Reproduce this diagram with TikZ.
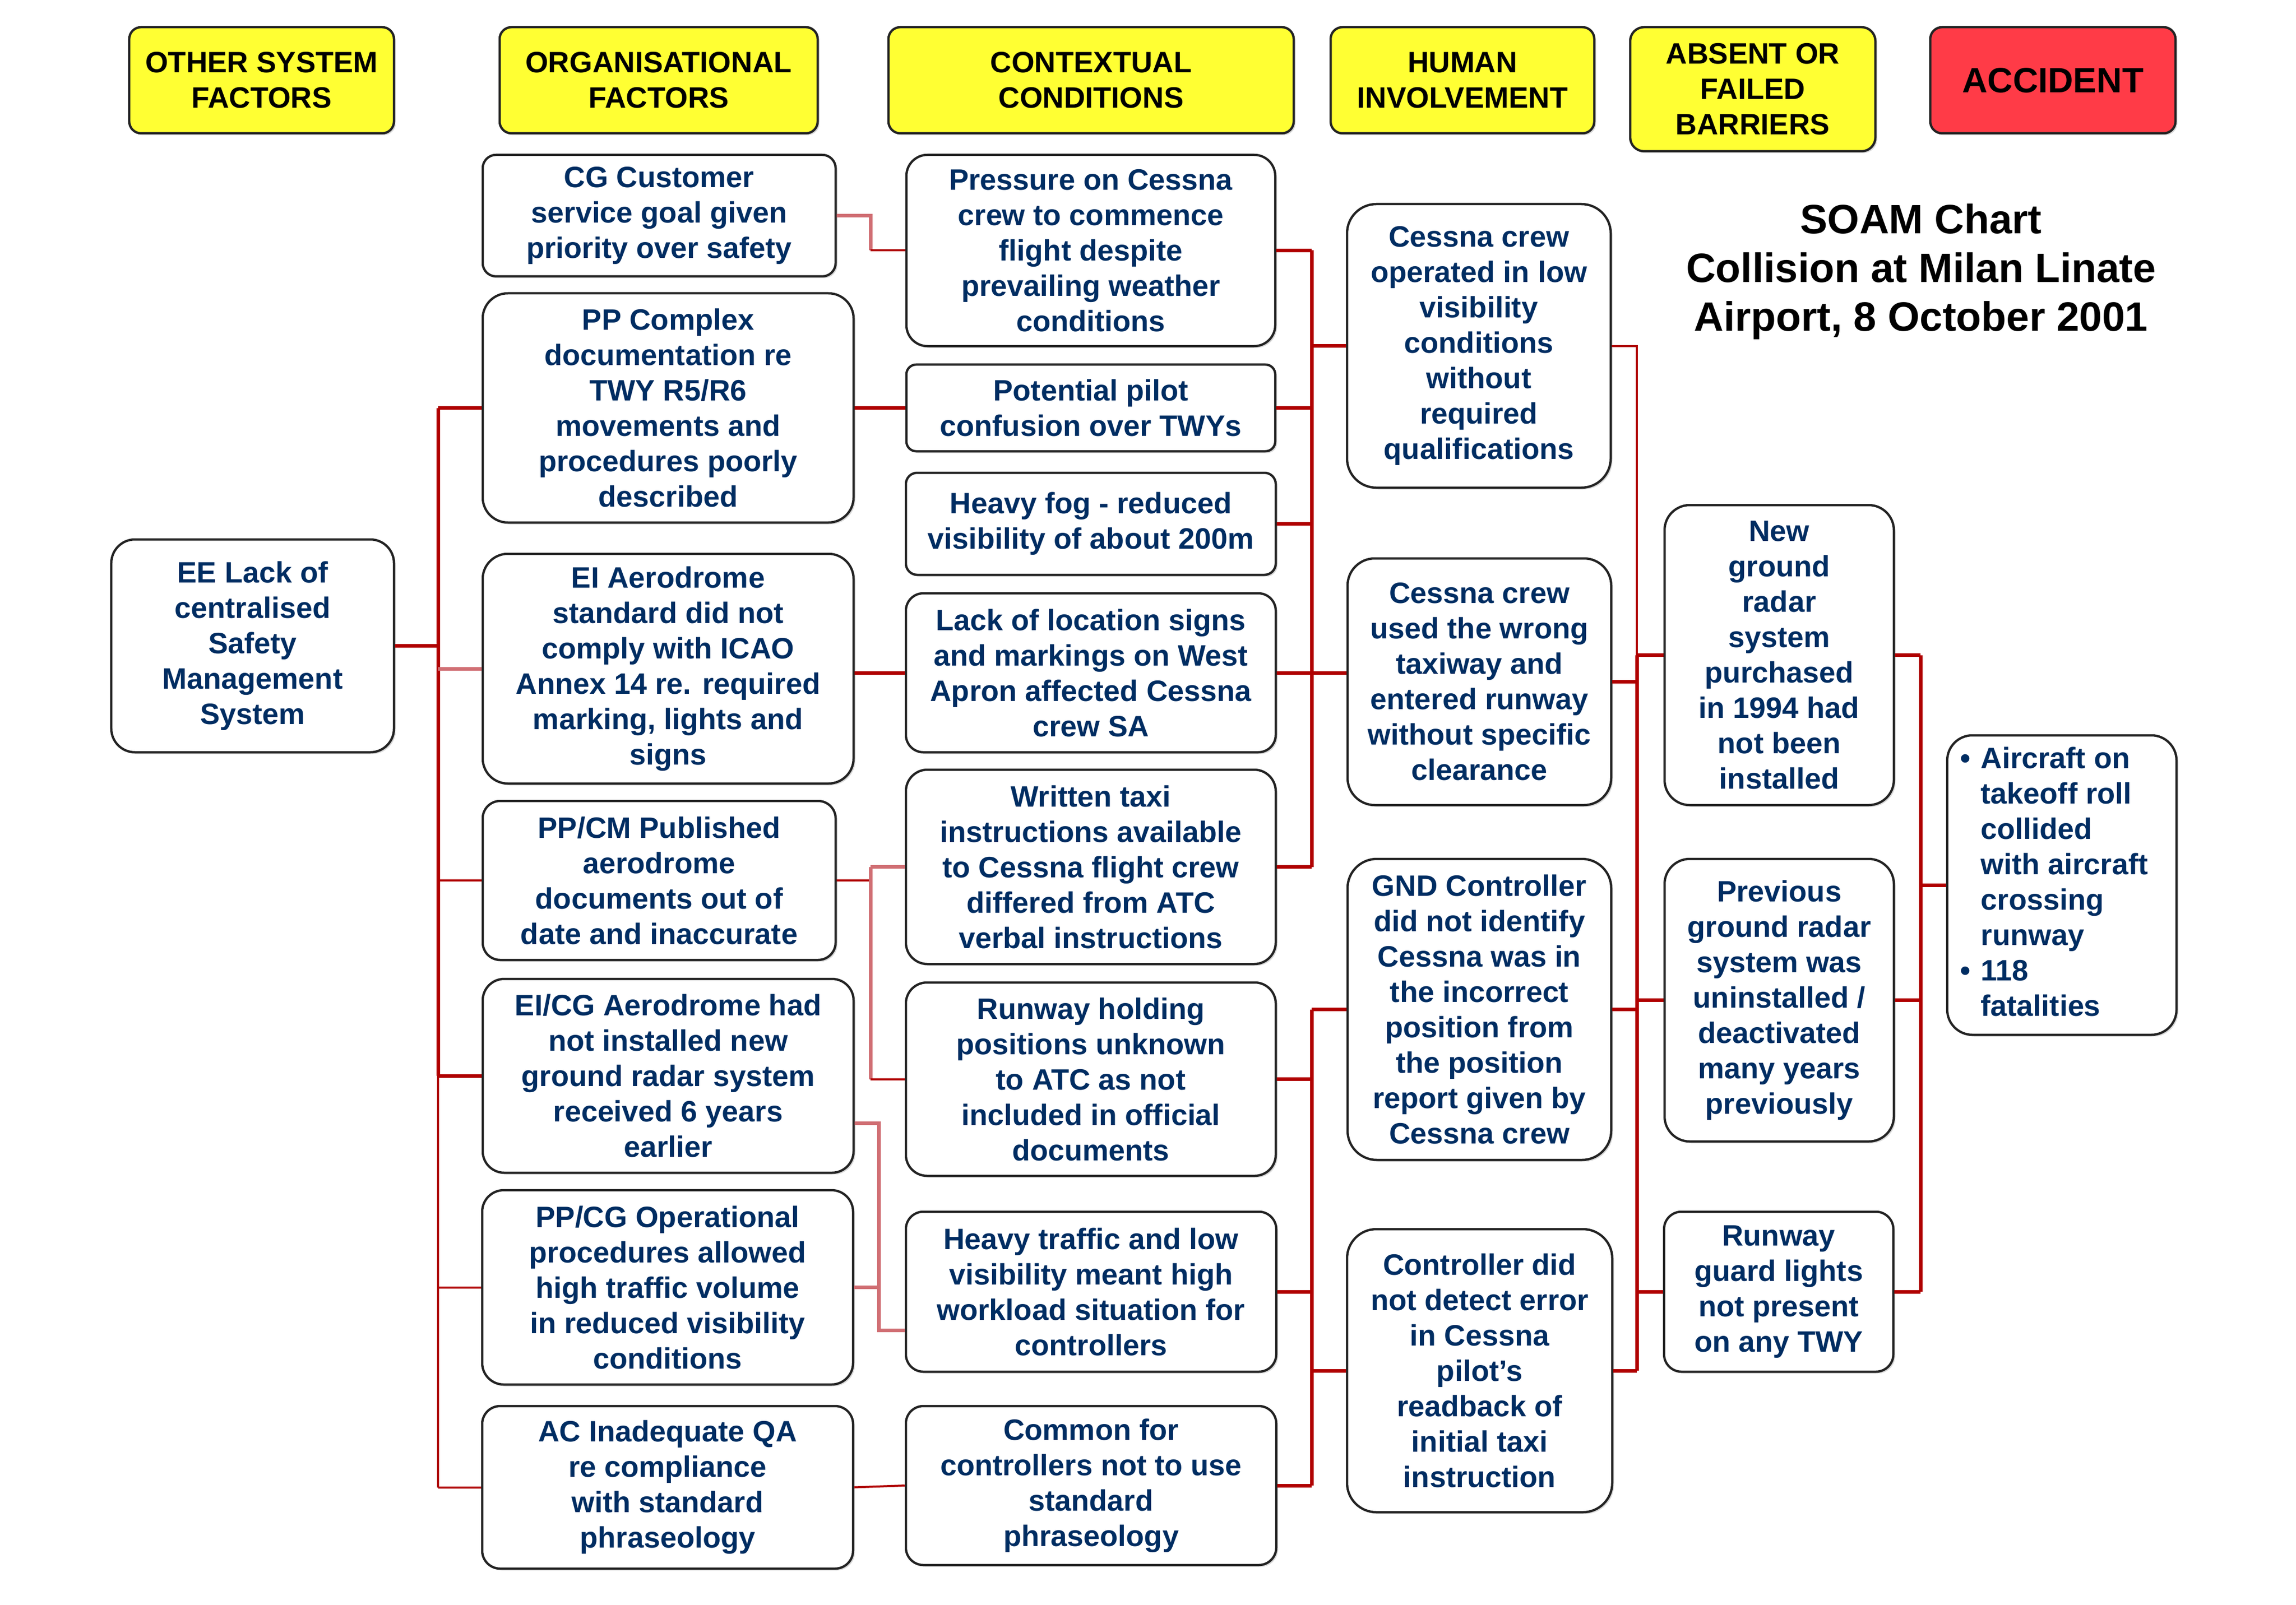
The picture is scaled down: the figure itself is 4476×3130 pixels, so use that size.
\documentclass[tikz,border=0pt]{standalone}
\usepackage{fontspec}
\setmainfont{Liberation Sans}
\usetikzlibrary{shadows}
\definecolor{navy}{RGB}{0,45,98}
\definecolor{hdryellow}{RGB}{255,255,51}
\definecolor{accred}{RGB}{255,59,71}
\definecolor{conred}{RGB}{176,0,0}
\definecolor{conlight}{RGB}{208,110,115}
\definecolor{boxline}{RGB}{35,35,35}
\begin{document}
\begin{tikzpicture}[x=0.2pt,y=-0.2pt,
  base/.style={draw=boxline, line width=0.9pt, inner sep=0pt, align=center,
    font=\bfseries\fontsize{11.5}{13.8}\selectfont,
    drop shadow={shadow xshift=0.7pt, shadow yshift=-0.7pt, opacity=0.3}},
  box/.style={base, fill=white, text=navy},
  hdr/.style={base, fill=hdryellow, text=black},
  thickc/.style={conred, line width=1.4pt},
  thinc/.style={conred, line width=0.8pt},
  lightc/.style={conlight, line width=1.4pt},
]
\useasboundingbox (0,0) rectangle (4476,3130);

% headers
\node[hdr, rounded corners=4.6pt, minimum width=103.2pt, minimum height=41.4pt] (H1) at (510,156.5) {OTHER SYSTEM\\FACTORS};
\node[hdr, rounded corners=4.6pt, minimum width=124pt, minimum height=41.4pt] (H2) at (1284,156.5) {ORGANISATIONAL\\FACTORS};
\node[hdr, rounded corners=4.6pt, minimum width=158pt, minimum height=41.4pt] (H3) at (2127,156.5) {CONTEXTUAL\\CONDITIONS};
\node[hdr, rounded corners=4.6pt, minimum width=102.8pt, minimum height=41.4pt] (H4) at (2851,156.5) {HUMAN\\INVOLVEMENT};
\node[hdr, rounded corners=5.4pt, minimum width=95.6pt, minimum height=48.4pt] (H5) at (3417,174) {ABSENT OR\\FAILED\\BARRIERS};
\node[hdr, fill=accred, rounded corners=4.6pt, minimum width=95.6pt, minimum height=41.4pt, font=\bfseries\fontsize{13.7}{16}\selectfont] (H6) at (4002,156.5) {ACCIDENT};

% title
\node[align=center, font=\bfseries\fontsize{16}{19}\selectfont, text=black] (title) at (3745,530) {SOAM Chart\\Collision at Milan Linate\\Airport, 8 October 2001};

% column 1
\node[box, rounded corners=9.2pt, minimum width=110.2pt, minimum height=83pt] (EE) at (492.5,1259.5) {EE Lack of\\centralised\\Safety\\Management\\System};

% column 2
\node[box, rounded corners=5.2pt, minimum width=137.6pt, minimum height=47.4pt] (CG) at (1285,420.5) {CG Customer\\service goal given\\priority over safety};
\node[box, rounded corners=9.8pt, minimum width=144.6pt, minimum height=89.4pt] (PPC) at (1302.5,795.5) {PP Complex\\documentation re\\TWY R5/R6\\movements and\\procedures poorly\\described};
\node[box, rounded corners=9.8pt, minimum width=144.6pt, minimum height=89.6pt] (EI) at (1302.5,1304) {EI Aerodrome\\standard did not\\comply with ICAO\\Annex 14 re. required\\marking, lights and\\signs};
\node[box, rounded corners=6.8pt, minimum width=137.6pt, minimum height=62pt] (PPCM) at (1285,1717) {PP/CM Published\\aerodrome\\documents out of\\date and inaccurate};
\node[box, rounded corners=8.4pt, minimum width=144.6pt, minimum height=75.6pt] (EICG) at (1302.5,2098) {EI/CG Aerodrome had\\not installed new\\ground radar system\\received 6 years\\earlier};
\node[box, rounded corners=8.4pt, minimum width=144.6pt, minimum height=75.8pt] (PPCG) at (1301.5,2510.5) {PP/CG Operational\\procedures allowed\\high traffic volume\\in reduced visibility\\conditions};
\node[box, rounded corners=7pt, minimum width=144.6pt, minimum height=63.4pt] (AC) at (1301.5,2900.5) {AC Inadequate QA\\re compliance\\with standard\\phraseology};

% column 3
\node[box, rounded corners=8.2pt, minimum width=143.8pt, minimum height=74.6pt] (Pressure) at (2126.5,488.5) {Pressure on Cessna\\crew to commence\\flight despite\\prevailing weather\\conditions};
\node[box, rounded corners=3.8pt, minimum width=143.8pt, minimum height=33.8pt] (Potential) at (2126.5,795.5) {Potential pilot\\confusion over TWYs};
\node[box, rounded corners=4.4pt, minimum width=144.2pt, minimum height=39.8pt] (Heavyfog) at (2126.5,1021.5) {Heavy fog - reduced\\visibility of about 200m};
\node[box, rounded corners=6.8pt, minimum width=144.2pt, minimum height=62pt] (Lack) at (2126.5,1312) {Lack of location signs\\and markings on West\\Apron affected Cessna\\crew SA};
\node[box, rounded corners=8.4pt, minimum width=144.2pt, minimum height=75.8pt] (Written) at (2126.5,1690.5) {Written taxi\\instructions available\\to Cessna flight crew\\differed from ATC\\verbal instructions};
\node[box, rounded corners=8.2pt, minimum width=144.2pt, minimum height=75.4pt] (RH) at (2126.5,2104.5) {Runway holding\\positions unknown\\to ATC as not\\included in official\\documents};
\node[box, rounded corners=6.8pt, minimum width=144.4pt, minimum height=62.4pt] (HT) at (2127,2519) {Heavy traffic and low\\visibility meant high\\workload situation for\\controllers};
\node[box, rounded corners=6.8pt, minimum width=144.4pt, minimum height=62pt] (Common) at (2127,2897) {Common for\\controllers not to use\\standard\\phraseology};

% column 4
\node[box, rounded corners=11.4pt, minimum width=102.8pt, minimum height=110.6pt] (Operated) at (2883,674.5) {Cessna crew\\operated in low\\visibility\\conditions\\without\\required\\qualifications};
\node[box, rounded corners=10.6pt, minimum width=102.8pt, minimum height=96.2pt] (Wrong) at (2884,1329.5) {Cessna crew\\used the wrong\\taxiway and\\entered runway\\without specific\\clearance};
\node[box, rounded corners=11.4pt, minimum width=102.8pt, minimum height=117.4pt] (GND) at (2884,1968.5) {GND Controller\\did not identify\\Cessna was in\\the incorrect\\position from\\the position\\report given by\\Cessna crew};
\node[box, rounded corners=11.4pt, minimum width=103.4pt, minimum height=110.4pt] (Controller) at (2884.5,2673) {Controller did\\not detect error\\in Cessna\\pilot’s\\readback of\\initial taxi\\instruction};

% column 5
\node[box, rounded corners=9.8pt, minimum width=89.4pt, minimum height=117pt] (NewRadar) at (3468.5,1277.5) {New\\ground\\radar\\system\\purchased\\in 1994 had\\not been\\installed};
\node[box, rounded corners=9.8pt, minimum width=89.4pt, minimum height=110.2pt] (Previous) at (3468.5,1950.5) {Previous\\ground radar\\system was\\uninstalled /\\deactivated\\many years\\previously};
\node[box, rounded corners=6.8pt, minimum width=89.4pt, minimum height=62.4pt] (RG) at (3467.5,2519) {Runway\\guard lights\\not present\\on any TWY};

% column 6
\node[box, rounded corners=9.8pt, minimum width=89.4pt, minimum height=116.8pt] (Accident) at (4019.5,1726) {\hbox{\begin{tabular}{@{}l@{\hspace{4pt}}l@{}}\textbullet & Aircraft on\\ & takeoff roll\\ & collided\\ & with aircraft\\ & crossing\\ & runway\\ \textbullet & 118\\ & fatalities\end{tabular}\kern6pt}};

% bus coordinates
\coordinate (b1) at (854,0);
\coordinate (b2a) at (1697,0);
\coordinate (b2b) at (1713,0);
\coordinate (b3) at (2557,0);
\coordinate (b4) at (3191,0);
\coordinate (b5) at (3744,0);

% column 1 connectors
\draw[thickc] (EE.east) -- (b1 |- EE.east);
\draw[thickc] (b1 |- PPC.west) -- (b1 |- EICG.west);
\draw[thinc] (b1 |- EICG.west) -- (b1 |- AC.west);
\draw[thickc] (b1 |- PPC.west) -- (PPC.west);
\draw[lightc] (b1 |- EI.west) -- (EI.west);
\draw[thinc] (b1 |- PPCM.west) -- (PPCM.west);
\draw[thickc] (b1 |- EICG.west) -- (EICG.west);
\draw[thinc] (b1 |- PPCG.west) -- (PPCG.west);
\draw[thinc] (b1 |- AC.west) -- (AC.west);

% column 2 connectors
\draw[lightc] (CG.east) -- (b2a |- CG.east) -- (b2a |- Pressure.west);
\draw[thinc] (b2a |- Pressure.west) -- (Pressure.west);
\draw[thickc] (PPC.east) -- (Potential.west);
\draw[thickc] (EI.east |- Lack.west) -- (Lack.west);
\draw[thinc] (PPCM.east) -- (b2a |- PPCM.east);
\draw[lightc] (b2a |- Written.west) -- (b2a |- RH.west);
\draw[lightc] (b2a |- Written.west) -- (Written.west);
\draw[thinc] (b2a |- RH.west) -- (RH.west);
\coordinate (eicgout) at ([yshift=-18.4pt]EICG.east);
\coordinate (htin) at ([yshift=-15pt]HT.west);
\draw[lightc] (eicgout) -- (b2b |- eicgout) -- (b2b |- htin) -- (htin);
\draw[lightc] (PPCG.east) -- (b2b |- PPCG.east);
\draw[thinc] (AC.east) -- (Common.west);

% column 3 connectors
\draw[thickc] (b3 |- Pressure.east) -- (b3 |- Written.east);
\foreach \n in {Pressure,Potential,Heavyfog,Lack,Written}
  \draw[thickc] (\n.east) -- (b3 |- \n.east);
\draw[thickc] (b3 |- Operated.west) -- (Operated.west);
\draw[thickc] (b3 |- Lack.east) -- (Wrong.west |- Lack.east);
\draw[thickc] (b3 |- GND.west) -- (b3 |- Common.east);
\foreach \n in {RH,HT,Common}
  \draw[thickc] (\n.east) -- (b3 |- \n.east);
\draw[thickc] (b3 |- GND.west) -- (GND.west);
\draw[thickc] (b3 |- Controller.west) -- (Controller.west);

% column 4 connectors
\draw[thinc] (Operated.east) -- (b4 |- Operated.east) -- (b4 |- NewRadar.west);
\draw[thickc] (b4 |- NewRadar.west) -- (b4 |- Controller.east);
\foreach \n in {Wrong,GND,Controller}
  \draw[thickc] (\n.east) -- (b4 |- \n.east);
\foreach \n in {NewRadar,Previous,RG}
  \draw[thickc] (b4 |- \n.west) -- (\n.west);

% column 5 connectors
\draw[thickc] (b5 |- NewRadar.east) -- (b5 |- RG.east);
\foreach \n in {NewRadar,Previous,RG}
  \draw[thickc] (\n.east) -- (b5 |- \n.east);
\draw[thickc] (b5 |- Accident.west) -- (Accident.west);
\end{tikzpicture}
\end{document}
